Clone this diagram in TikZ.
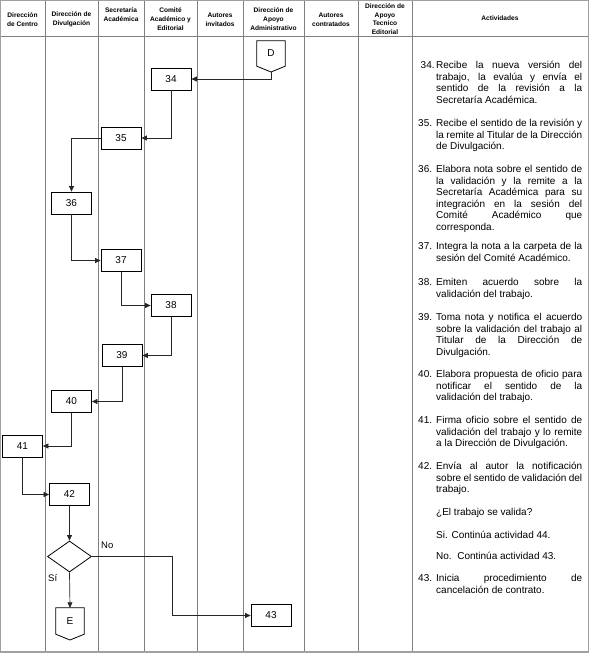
\documentclass[tikz,border=0pt]{standalone}
\usepackage{fontspec}
\setmainfont{Liberation Sans}
\usetikzlibrary{arrows.meta,shapes.geometric,calc}
\hyphenpenalty=10000
\tolerance=10000
\hbadness=10000
\hfuzz=5pt
\definecolor{gridc}{RGB}{128,128,128}
\definecolor{borderc}{RGB}{160,160,160}
\begin{document}
\begin{tikzpicture}[x=1pt,y=-1pt,
  grid/.style={draw=gridc, line width=0.6pt},
  border/.style={draw=borderc, line width=1.2pt},
  hdr/.style={font=\fontsize{6.6}{9}\selectfont\bfseries, align=center, inner sep=0pt},
  box/.style={draw=black, line width=0.8pt, fill=white, minimum width=40pt, minimum height=22pt, inner sep=0pt, font=\fontsize{10}{12}\selectfont},
  shp/.style={draw=black, line width=0.8pt},
  flow/.style={draw=black!85, line width=0.7pt, -{Triangle[length=5.5pt,width=5pt]}},
  num/.style={anchor=base west, inner sep=0pt, font=\fontsize{10}{11.5}\selectfont},
  act/.style={anchor=base west, inner sep=0pt, text width=146pt, align=justify, font=\fontsize{10}{11.5}\selectfont},
  lbl/.style={font=\fontsize{9.5}{11}\selectfont, inner sep=0pt}]
\useasboundingbox (0,0) rectangle (590,656);
% table
\foreach \x in {45,98,144,197,243,304,358,412} \draw[grid] (\x,0.5) -- (\x,652);
\draw[grid] (0.5,36) -- (588.5,36);
\draw[border] (0.6,0.6) rectangle (588.4,652);
% headers
\node[hdr] (h1) at (22.5,19.5) {Dirección\\de Centro};
\node[hdr] (h2) at (71.5,19.5) {Dirección de\\Divulgación};
\node[hdr] (h3) at (121,14.5) {Secretaría\\Académica};
\node[hdr] (h4) at (170.5,19) {Comité\\Académico y\\Editorial};
\node[hdr] (h5) at (220,19.5) {Autores\\invitados};
\node[hdr] (h6) at (273.5,19) {Dirección de\\Apoyo\\Administrativo};
\node[hdr] (h7) at (331,19.5) {Autores\\contratados};
\node[hdr, font=\fontsize{6.6}{8.6}\selectfont\bfseries] (h8) at (385,19) {Dirección de\\Apoyo\\Tecnico\\Editorial};
\node[hdr] (h9) at (500,18.5) {Actividades};
% off-page connector D
\node[inner sep=0pt, minimum width=28pt, minimum height=25pt, font=\fontsize{10}{12}\selectfont] (D) at (271,53.5) {D};
\coordinate (Dtip) at (271,72);
\draw[shp] (D.north west) -- (D.north east) -- (D.south east) -- (Dtip) -- (D.south west) -- cycle;
% boxes
\node[box] (n34) at (171,79) {34};
\node[box] (n35) at (121,138) {35};
\node[box] (n36) at (71.5,203) {36};
\node[box] (n37) at (121,260.5) {37};
\node[box] (n38) at (171,305.5) {38};
\node[box] (n39) at (122,355.5) {39};
\node[box] (n40) at (71.5,401.5) {40};
\node[box] (n41) at (22.5,446) {41};
\node[box] (n42) at (69.5,494.5) {42};
\node[draw=black, line width=0.8pt, diamond, minimum width=44pt, minimum height=31pt, inner sep=0pt] (dec) at (69.5,556.5) {};
\node[box] (n43) at (271,615.5) {43};
% off-page connector E
\node[inner sep=0pt, minimum width=28pt, minimum height=26pt, font=\fontsize{10}{12}\selectfont] (E) at (70,621) {E};
\coordinate (Etip) at (70,640);
\draw[shp] (E.north west) -- (E.north east) -- (E.south east) -- (Etip) -- (E.south west) -- cycle;
% connectors
\draw[flow] (Dtip) |- (n34.east);
\draw[flow] (n34.south) |- (n35.east);
\draw[flow] (n35.west) -| (n36.north);
\draw[flow] (n36.south) |- (n37.west);
\draw[flow] (n37.south) |- (n38.west);
\draw[flow] (n38.south) |- (n39.east);
\draw[flow] (n39.south) |- (n40.east);
\draw[flow] (n40.south) |- (n41.east);
\draw[flow] (n41.south) |- (n42.west);
\draw[flow] (n42.south) -- (dec.north);
\draw[flow] (dec.south) -- (E.north);
\coordinate (bend) at (172,556.5);
\draw[flow] (dec.east) -- (bend) |- (n43.west);
\node[lbl, anchor=base west] (lno) at (101,548) {No};
\node[lbl, anchor=base west] (lsi) at (48,581) {Sí};
% activities
\node[num] (k34) at (420.5,68.5) {34.};
\node[act] (t34) at (436,68.5) {Recibe la nueva versión del\linebreak trabajo, la evalúa y envía el\linebreak sentido de la revisión a la\linebreak Secretaría Académica.};
\node[num] (k35) at (418,126.5) {35.};
\node[act] (t35) at (436,126.5) {Recibe el sentido de la revisión y\linebreak la remite al Titular de la Dirección\linebreak de Divulgación.};
\node[num] (k36) at (418,172.5) {36.};
\node[act] (t36) at (436,172.5) {Elabora nota sobre el sentido de\linebreak la validación y la remite a la\linebreak Secretaría Académica para su\linebreak integración en la sesión del\linebreak Comité Académico que\linebreak corresponda.};
\node[num] (k37) at (418,249.5) {37.};
\node[act] (t37) at (436,249.5) {Integra la nota a la carpeta de la\linebreak sesión del Comité Académico.};
\node[num] (k38) at (418,285.5) {38.};
\node[act] (t38) at (436,285.5) {Emiten acuerdo sobre la\linebreak validación del trabajo.};
\node[num] (k39) at (418,320.5) {39.};
\node[act] (t39) at (436,320.5) {Toma nota y notifica el acuerdo\linebreak sobre la validación del trabajo al\linebreak Titular de la Dirección de\linebreak Divulgación.};
\node[num] (k40) at (418,377.5) {40.};
\node[act] (t40) at (436,377.5) {Elabora propuesta de oficio para\linebreak notificar el sentido de la\linebreak validación del trabajo.};
\node[num] (k41) at (418,423.5) {41.};
\node[act] (t41) at (436,423.5) {Firma oficio sobre el sentido de\linebreak validación del trabajo y lo remite\linebreak a la Dirección de Divulgación.};
\node[num] (k42) at (418,469.5) {42.};
\node[act] (t42) at (436,469.5) {Envía al autor la notificación\linebreak sobre el sentido de validación del\linebreak trabajo.};
\node[num] (q42) at (436,515.5) {¿El trabajo se valida?};
\node[num] (s42) at (436,538.5) {Si. Continúa actividad 44.};
\node[num] (o42) at (436,559.5) {No.\ \ Continúa actividad 43.};
\node[num] (k43) at (418,581.5) {43.};
\node[act] (t43) at (436,581.5) {Inicia procedimiento de\linebreak cancelación de contrato.};
\end{tikzpicture}
\end{document}
